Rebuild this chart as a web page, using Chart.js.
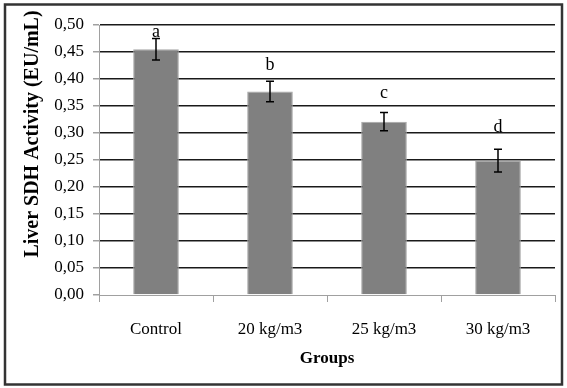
<!DOCTYPE html>
<html>
<head>
<meta charset="utf-8">
<script src="https://cdn.jsdelivr.net/npm/chart.js@4.4.1/dist/chart.umd.min.js"></script>
<style>
  html, body { margin: 0; padding: 0; background: #fff; }
</style>
</head>
<body>
<canvas id="sdhChart" width="567" height="388"></canvas>
<script>
// data
var groups = ['Control', '20 kg/m3', '25 kg/m3', '30 kg/m3'];
var sdhMeans = [0.455, 0.377, 0.321, 0.249];
var sdhErrors = [0.020, 0.019, 0.017, 0.021];
var sigLetters = ['a', 'b', 'c', 'd'];
var letterLevels = [0.486, 0.425, 0.374, 0.310];
var yTickLabels = ['0,00', '0,05', '0,10', '0,15', '0,20', '0,25', '0,30', '0,35', '0,40', '0,45', '0,50'];

var serif = '"Liberation Serif", "Times New Roman", serif';
Chart.defaults.color = '#000';

// white page + dark frame around the figure
var framePlugin = {
  id: 'frame',
  beforeDraw: function (chart) {
    var c = chart.ctx;
    c.save();
    c.fillStyle = '#fff';
    c.fillRect(0, 0, chart.width, chart.height);
    c.restore();
  },
  afterDraw: function (chart) {
    var c = chart.ctx;
    c.save();
    c.strokeStyle = '#333';
    c.lineWidth = 2.5;
    c.strokeRect(5, 4.5, 557, 380);
    c.restore();
  }
};

// error bars + significance letters
var errorBarPlugin = {
  id: 'errorBars',
  afterDatasetsDraw: function (chart) {
    var c = chart.ctx;
    var y = chart.scales.y;
    var bars = chart.getDatasetMeta(0).data;
    c.save();
    c.strokeStyle = '#000';
    c.lineWidth = 1.5;
    bars.forEach(function (bar, i) {
      var top = y.getPixelForValue(sdhMeans[i] + sdhErrors[i]);
      var bot = y.getPixelForValue(sdhMeans[i] - sdhErrors[i]);
      c.beginPath();
      c.moveTo(bar.x, top); c.lineTo(bar.x, bot);
      c.moveTo(bar.x - 4, top); c.lineTo(bar.x + 4, top);
      c.moveTo(bar.x - 4, bot); c.lineTo(bar.x + 4, bot);
      c.stroke();
    });
    c.fillStyle = '#000';
    c.font = '18px ' + serif;
    c.textAlign = 'center';
    c.textBaseline = 'middle';
    bars.forEach(function (bar, i) {
      c.fillText(sigLetters[i], bar.x, y.getPixelForValue(letterLevels[i]));
    });
    c.restore();
  }
};

// rotated y title, placed as in the original (not centred on the plot)
var yTitlePlugin = {
  id: 'yTitle',
  afterDraw: function (chart) {
    var c = chart.ctx;
    c.save();
    c.translate(33, 134);
    c.rotate(-Math.PI / 2);
    c.fillStyle = '#000';
    c.font = 'bold 20px ' + serif;
    c.textAlign = 'center';
    c.textBaseline = 'middle';
    c.fillText('Liver SDH Activity (EU/mL)', 0, 0);
    c.restore();
  }
};

var ctx = document.getElementById('sdhChart').getContext('2d');
var chart = new Chart(ctx, {
  type: 'bar',
  data: {
    labels: groups,
    datasets: [{
      data: sdhMeans,
      backgroundColor: '#808080',
      borderColor: '#a6a6a6',
      borderWidth: 1,
      barPercentage: 0.4,
      categoryPercentage: 1.0
    }]
  },
  options: {
    responsive: false,
    animation: false,
    layout: { padding: { left: 0, right: 12, top: 25, bottom: 0 } },
    plugins: {
      legend: { display: false },
      tooltip: { enabled: false }
    },
    scales: {
      x: {
        afterFit: function (s) { s.height = 93; },
        grid: {
          offset: true,
          drawOnChartArea: false,
          tickLength: 7,
          color: '#a0a0a0'
        },
        border: { color: '#a0a0a0', width: 1 },
        ticks: { padding: 17, font: { family: serif, size: 17 } },
        title: {
          display: true,
          text: 'Groups',
          font: { family: serif, size: 17, weight: 'bold' },
          padding: { top: 4, bottom: 19 }
        }
      },
      y: {
        min: 0,
        max: 0.5,
        afterFit: function (s) { s.width = 99; },
        ticks: {
          stepSize: 0.05,
          padding: 9,
          font: { family: serif, size: 17 },
          callback: function (v, i) { return yTickLabels[i]; }
        },
        grid: {
          lineWidth: 1.5,
          color: function (c) { return c.tick && c.tick.value === 0 ? 'rgba(0,0,0,0)' : '#1a1a1a'; },
          tickColor: '#a0a0a0',
          tickLength: 6
        },
        border: { color: '#a0a0a0', width: 1 }
      }
    }
  },
  plugins: [framePlugin, errorBarPlugin, yTitlePlugin]
});
</script>
</body>
</html>
